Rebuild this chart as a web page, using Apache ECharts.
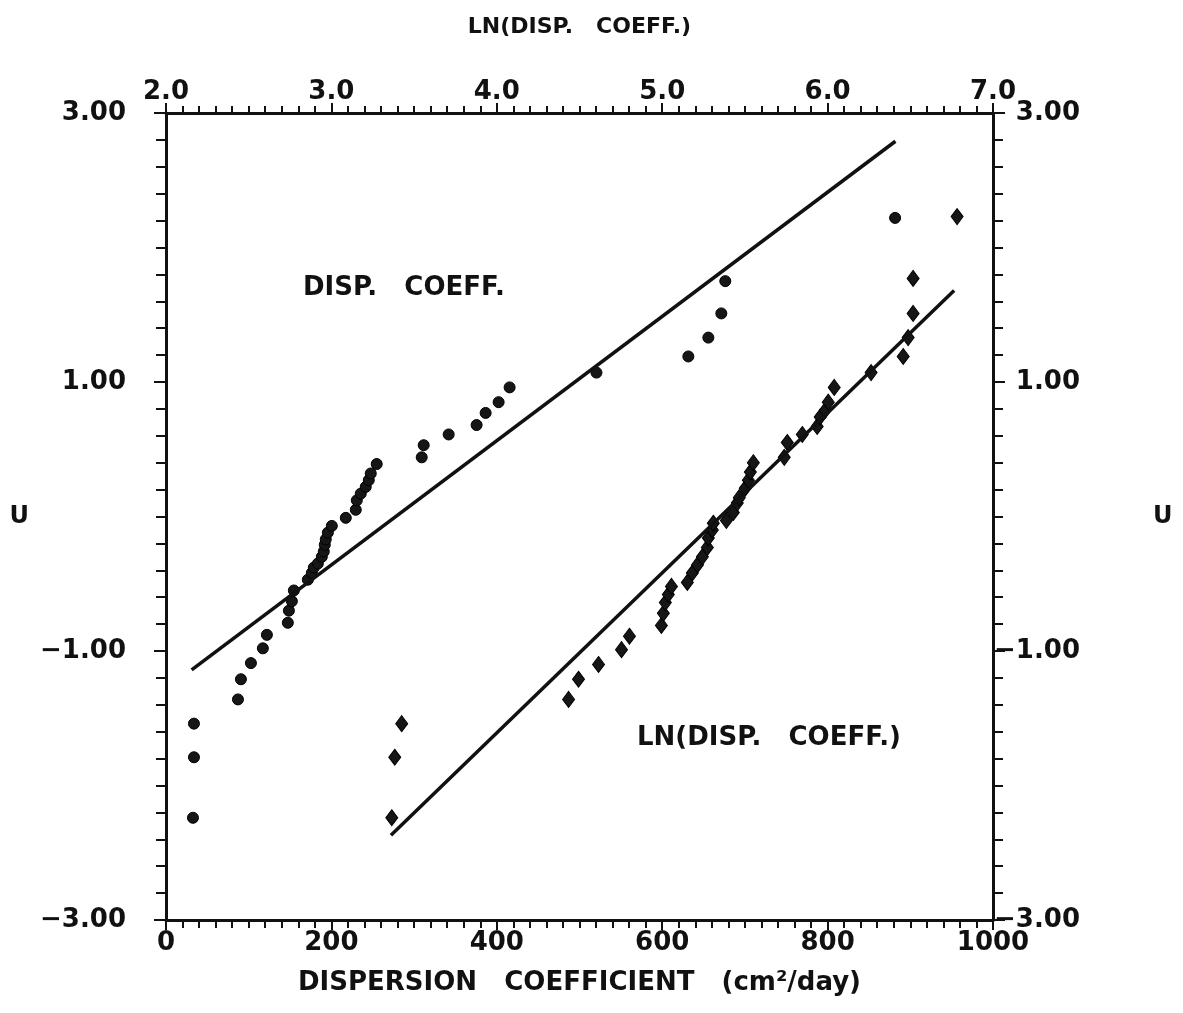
<!DOCTYPE html>
<html>
<head>
<meta charset="utf-8">
<script src="https://cdn.jsdelivr.net/npm/echarts@6/dist/echarts.min.js"></script>
<style>
html,body{margin:0;padding:0;background:#fff;}
#chart{width:1183px;height:1013px;}
</style>
</head>
<body>
<div id="chart"></div>
<script>
// DISP. COEFF. series (bottom axis, cm2/day) vs U
const dispX = [32.6,33.8,33.8,87.0,90.6,102.7,117.1,122.0,147.3,148.6,152.2,154.6,171.5,176.3,178.7,183.6,188.4,190.8,192.0,193.2,195.7,200.5,217.4,229.5,230.7,235.5,241.5,245.2,247.6,254.8,309.2,311.6,341.8,375.6,386.5,402.2,415.5,520.5,631.6,655.8,671.5,676.3,881.6];
const dispU = [-2.24,-1.79,-1.54,-1.36,-1.21,-1.09,-0.98,-0.88,-0.79,-0.70,-0.63,-0.55,-0.47,-0.42,-0.38,-0.35,-0.30,-0.26,-0.21,-0.17,-0.12,-0.07,-0.01,0.05,0.12,0.17,0.22,0.27,0.32,0.39,0.44,0.53,0.61,0.68,0.77,0.85,0.96,1.07,1.19,1.33,1.51,1.75,2.22];
// LN(DISP. COEFF.) series (top axis) vs U
const lnX = [3.365,3.383,3.425,4.434,4.494,4.615,4.754,4.802,4.995,5.007,5.019,5.037,5.056,5.152,5.182,5.213,5.243,5.273,5.279,5.303,5.309,5.388,5.430,5.454,5.466,5.502,5.521,5.533,5.551,5.738,5.756,5.847,5.937,5.955,5.986,6.004,6.040,6.263,6.457,6.487,6.517,6.517,6.783];
const lnU = [-2.24,-1.79,-1.54,-1.36,-1.21,-1.10,-0.99,-0.89,-0.81,-0.72,-0.64,-0.58,-0.52,-0.49,-0.42,-0.36,-0.30,-0.23,-0.16,-0.10,-0.05,-0.03,0.03,0.10,0.14,0.21,0.27,0.33,0.40,0.44,0.55,0.61,0.67,0.74,0.79,0.85,0.96,1.07,1.19,1.33,1.51,1.77,2.23];
// fitted lines
const dispFitX = [31, 882];
const dispFitU = [-1.14, 2.79];
const lnFitX = [3.36, 6.765];
const lnFitU = [-2.37, 1.68];
// axes
const bottomMin = 0, bottomMax = 1000, bottomStep = 200;
const topMin = 2, topMax = 7, topStep = 1;
const uMin = -3, uMax = 3, uStep = 2;

const FONT = '"DejaVu Sans", "Liberation Sans", sans-serif';
const INK = '#111';

function pairs(xs, ys){ return xs.map((x,i)=>[x, ys[i]]); }
function fmtU(v){ return (v < 0 ? '\u2212' : '') + Math.abs(v).toFixed(2); }

const axisLineStyle = {color: INK, width: 3};
const tickStyle = {color: INK, width: 2};

const chart = echarts.init(document.getElementById('chart'), null, {renderer:'canvas'});
chart.setOption({
  backgroundColor: '#fff',
  animation: false,
  grid: {left: 166, top: 113, width: 827, height: 807, containLabel: false},
  xAxis: [
    {
      type: 'value', position: 'bottom', min: bottomMin, max: bottomMax, interval: bottomStep,
      name: 'DISPERSION   COEFFICIENT   (cm\u00b2/day)', nameLocation: 'middle', nameGap: 50,
      nameTextStyle: {fontFamily: FONT, fontWeight: 'bold', fontSize: 26, color: INK},
      axisLine: {show: true, onZero: false, lineStyle: axisLineStyle},
      axisTick: {show: true, length: 10, lineStyle: tickStyle},
      minorTick: {show: true, splitNumber: 10, length: 8, lineStyle: tickStyle},
      axisLabel: {fontFamily: FONT, fontWeight: 'bold', fontSize: 26, color: INK, margin: 10,
                  formatter: v => String(v)},
      splitLine: {show: false}
    },
    {
      type: 'value', position: 'top', min: topMin, max: topMax, interval: topStep,
      name: 'LN(DISP.   COEFF.)', nameLocation: 'middle', nameGap: 75,
      nameTextStyle: {fontFamily: FONT, fontWeight: 'bold', fontSize: 22, color: INK},
      axisLine: {show: true, onZero: false, lineStyle: axisLineStyle},
      axisTick: {show: true, length: 10, lineStyle: tickStyle},
      minorTick: {show: true, splitNumber: 10, length: 7, lineStyle: tickStyle},
      axisLabel: {fontFamily: FONT, fontWeight: 'bold', fontSize: 26, color: INK, margin: 8,
                  formatter: v => v.toFixed(1)},
      splitLine: {show: false}
    }
  ],
  yAxis: [
    {
      type: 'value', position: 'left', min: uMin, max: uMax, interval: uStep,
      name: 'U', nameLocation: 'middle', nameRotate: 0, nameGap: 137,
      nameTextStyle: {fontFamily: FONT, fontWeight: 'bold', fontSize: 24, color: INK},
      axisLine: {show: true, onZero: false, lineStyle: axisLineStyle},
      axisTick: {show: true, length: 12, lineStyle: tickStyle},
      minorTick: {show: true, splitNumber: 10, length: 10, lineStyle: tickStyle},
      axisLabel: {fontFamily: FONT, fontWeight: 'bold', fontSize: 26, color: INK, margin: 40, formatter: fmtU},
      splitLine: {show: false}
    },
    {
      type: 'value', position: 'right', min: uMin, max: uMax, interval: uStep,
      name: 'U', nameLocation: 'middle', nameRotate: 0, nameGap: 160,
      nameTextStyle: {fontFamily: FONT, fontWeight: 'bold', fontSize: 24, color: INK},
      axisLine: {show: true, onZero: false, lineStyle: axisLineStyle},
      axisTick: {show: true, length: 12, lineStyle: tickStyle},
      minorTick: {show: true, splitNumber: 10, length: 10, lineStyle: tickStyle},
      axisLabel: {fontFamily: FONT, fontWeight: 'bold', fontSize: 26, color: INK, margin: 87, align: 'right', formatter: fmtU},
      splitLine: {show: false}
    }
  ],
  series: [
    {
      name: 'DISP. COEFF.', type: 'scatter', xAxisIndex: 0, yAxisIndex: 0,
      data: pairs(dispX, dispU), symbol: 'circle', symbolSize: 11,
      itemStyle: {color: '#161616', borderColor: '#000', borderWidth: 1, opacity: 1}
    },
    {
      name: 'LN(DISP. COEFF.)', type: 'scatter', xAxisIndex: 1, yAxisIndex: 0,
      data: pairs(lnX, lnU), symbol: 'diamond', symbolSize: [12, 16],
      itemStyle: {color: '#161616', borderColor: '#000', borderWidth: 1, opacity: 1}
    },
    {
      name: 'DISP fit', type: 'line', xAxisIndex: 0, yAxisIndex: 0,
      data: pairs(dispFitX, dispFitU), symbol: 'none',
      lineStyle: {color: INK, width: 3.5}
    },
    {
      name: 'LN fit', type: 'line', xAxisIndex: 1, yAxisIndex: 0,
      data: pairs(lnFitX, lnFitU), symbol: 'none',
      lineStyle: {color: INK, width: 3.5}
    }
  ],
  graphic: [
    {type: 'text', left: 303, top: 275,
     style: {text: 'DISP.   COEFF.', font: 'bold 26px ' + FONT, fill: INK}},
    {type: 'text', left: 637, top: 725,
     style: {text: 'LN(DISP.   COEFF.)', font: 'bold 26px ' + FONT, fill: INK}}
  ]
});
</script>
</body>
</html>
